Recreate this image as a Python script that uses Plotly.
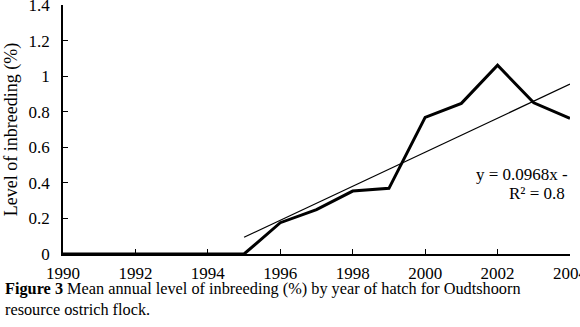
import plotly.graph_objects as go

years = [1990, 1991, 1992, 1993, 1994, 1995, 1996, 1997, 1998, 1999, 2000, 2001, 2002, 2003, 2004]
inbreeding = [0, 0, 0, 0, 0, 0, 0.176, 0.25, 0.354, 0.369, 0.768, 0.847, 1.061, 0.85, 0.763]
trend_x = [1995, 2004]
trend_y = [0.094, 0.955]
x_ticks = [1990, 1992, 1994, 1996, 1998, 2000, 2002, 2004]
y_ticks = [0, 0.2, 0.4, 0.6, 0.8, 1.0, 1.2, 1.4]
y_ticktext = ["0", "0.2", "0.4", "0.6", "0.8", "1", "1.2", "1.4"]
eq_text = "y = 0.0968x -"
r2_text = "R² = 0.8"
caption = "<b>Figure 3</b> Mean annual level of inbreeding (%) by year of hatch for Oudtshoorn<br>resource ostrich flock."

W, H = 580, 327
L, R, T, B = 63, 10, 5, 73
pw, ph = W - L - R, H - T - B

def px(x):
    return (x - L) / pw

def py(y):
    return (H - B - y) / ph

font = "Liberation Serif, Times New Roman, serif"

fig = go.Figure()
fig.add_trace(go.Scatter(x=trend_x, y=trend_y, mode="lines",
                         line=dict(color="black", width=1.2), hoverinfo="skip"))
fig.add_trace(go.Scatter(x=years, y=inbreeding, mode="lines",
                         line=dict(color="black", width=3), cliponaxis=False))

fig.update_layout(
    width=W, height=H,
    margin=dict(l=L, r=R, t=T, b=B, autoexpand=False),
    paper_bgcolor="white", plot_bgcolor="white",
    showlegend=False,
    font=dict(family=font, color="black", size=16),
    xaxis=dict(range=[1990, 2004], tickvals=x_ticks, ticks="inside", ticklen=5,
               tickwidth=1, tickcolor="black", showline=True, linecolor="black",
               linewidth=1.5, showgrid=False, zeroline=False,
               tickfont=dict(size=17, family=font), ticklabelstandoff=3,
               ticklabeloverflow="allow"),
    yaxis=dict(range=[0, 1.4], tickvals=y_ticks, ticktext=y_ticktext, ticks="inside",
               ticklen=5, tickwidth=1, tickcolor="black", showline=True,
               linecolor="black", linewidth=1.5, showgrid=False, zeroline=False,
               tickfont=dict(size=17, family=font), ticklabelstandoff=8,
               ticklabeloverflow="allow",
               title=dict(text="Level of inbreeding (%)", font=dict(size=18, family=font),
                          standoff=6)),
)

fig.add_annotation(x=px(474), y=py(174), xref="paper", yref="paper", text=eq_text,
                   showarrow=False, xanchor="left", yanchor="middle",
                   font=dict(size=17, family=font))
fig.add_annotation(x=px(507), y=py(193), xref="paper", yref="paper", text=r2_text,
                   showarrow=False, xanchor="left", yanchor="middle",
                   font=dict(size=17, family=font))
fig.add_annotation(x=px(3), y=py(277), xref="paper", yref="paper", text=caption,
                   showarrow=False, xanchor="left", yanchor="top", align="left",
                   font=dict(size=16.3, family=font))

fig.write_html("out.html", config={"displayModeBar": False},
               post_script="document.body.style.margin='0';document.body.style.overflow='hidden';")
